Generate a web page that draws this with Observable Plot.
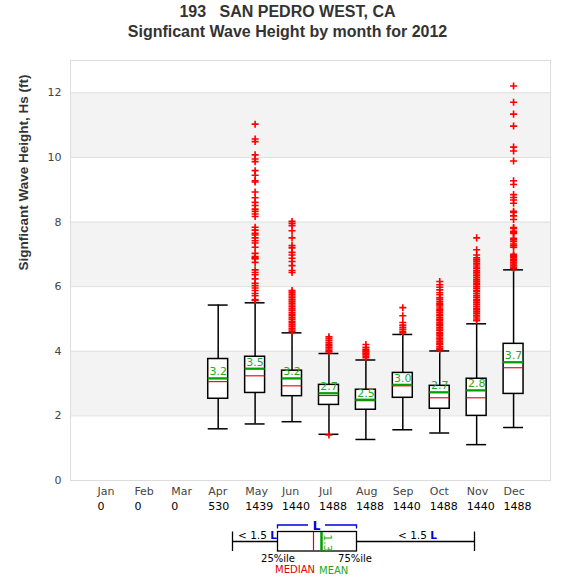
<!DOCTYPE html>
<html><head><meta charset="utf-8">
<script src="https://cdn.jsdelivr.net/npm/d3@7"></script>
<script src="https://cdn.jsdelivr.net/npm/@observablehq/plot@0.6"></script>
<style>
body{margin:0;background:#fff;}
#wrap{position:relative;width:575px;height:580px;overflow:hidden;}
#title{position:absolute;top:2px;left:0;width:575px;text-align:center;font:bold 16px "Liberation Sans",Arial,sans-serif;color:#333;line-height:20px;white-space:pre;}
#plot{position:absolute;top:48px;left:0;}
#legend{position:absolute;top:515px;left:0;}
</style></head><body>
<div id="wrap">
<div id="title">193   SAN PEDRO WEST, CA
Signficant Wave Height by month for 2012</div>
<div id="plot"></div>
<svg id="legend" width="575" height="65" font-family="DejaVu Sans" font-size="10">
  <g stroke="#000" stroke-width="1.3" fill="none">
    <line x1="232.5" y1="16.5" x2="232.5" y2="36"/>
    <line x1="232.5" y1="26.5" x2="277.5" y2="26.5"/>
    <rect x="277.5" y="16.5" width="79" height="19.5" fill="#fff"/>
    <line x1="356.5" y1="26.5" x2="474.5" y2="26.5"/>
    <line x1="474.5" y1="16.5" x2="474.5" y2="36"/>
  </g>
  <line x1="313.5" y1="17" x2="313.5" y2="35.5" stroke="#e00000" stroke-width="1.2"/>
  <line x1="321.5" y1="17" x2="321.5" y2="35.5" stroke="#00a000" stroke-width="2.5"/>
  <text transform="translate(324,28) rotate(90)" text-anchor="middle" fill="#22aa22" font-size="11">1.3</text>
  <path d="M277.5,13.5V10H308M325,10H356.5V13.5" stroke="#0000dd" stroke-width="1.3" fill="none"/>
  <text x="316.5" y="14.5" text-anchor="middle" fill="#0000dd" font-weight="bold" font-size="12">L</text>
  <text x="238" y="23.5" fill="#000" font-size="10.5">&lt; 1.5 <tspan fill="#0000dd" font-weight="bold">L</tspan></text>
  <text x="398" y="23.5" fill="#000" font-size="10.5">&lt; 1.5 <tspan fill="#0000dd" font-weight="bold">L</tspan></text>
  <text x="278" y="47" text-anchor="middle" fill="#000">25%ile</text>
  <text x="355" y="47" text-anchor="middle" fill="#000">75%ile</text>
  <text x="315" y="57.5" text-anchor="end" fill="#e00000">MEDIAN</text>
  <text x="319" y="59" fill="#22aa22">MEAN</text>
</svg>
</div>
<script>
const months = ["Jan","Feb","Mar","Apr","May","Jun","Jul","Aug","Sep","Oct","Nov","Dec"];
const counts = [0,0,0,530,1439,1440,1488,1488,1440,1488,1440,1488];
const whiskerLow  = [null,null,null,1.60,1.75,1.82,1.43,1.27,1.57,1.47,1.11,1.64];
const q1          = [null,null,null,2.53,2.71,2.61,2.34,2.19,2.56,2.22,2.00,2.68];
const medians     = [null,null,null,3.06,3.24,2.93,2.63,2.47,2.93,2.56,2.56,3.49];
const means       = [null,null,null,3.16,3.46,3.16,2.70,2.50,2.96,2.73,2.79,3.66];
const q3          = [null,null,null,3.76,3.83,3.40,2.96,2.81,3.33,2.93,3.15,4.23];
const whiskerHigh = [null,null,null,5.43,5.50,4.57,3.93,3.73,4.52,4.01,4.85,6.52];
const yTicks = [0,2,4,6,8,10,12];
const bandLow = [2,6,10];
const bandHigh = [4,8,12];
const gridLines = [2,4,6,8,10,12];

const outApr = [];
const outMay = [11.03,10.57,10.49,10.08,9.95,9.87,9.59,9.45,9.28,9.24,8.93,8.75,8.61,8.51,8.40,8.33,8.25,8.17,7.84,7.75,7.65,7.60,7.51,7.42,7.35,7.22,7.03,6.93,6.89,6.86,6.75,6.52,6.44,6.37,6.24,6.10,6.03,5.96,5.88,5.79,5.72,5.60,5.57];
const outJun = [8.02,7.96,7.89,7.73,7.51,7.27,7.20,7.06,6.98,6.88,6.78,6.65,6.50,6.44,5.88,5.83,5.77,5.71,5.66,5.60,5.55,5.49,5.43,5.38,5.32,5.27,5.21,5.15,5.10,5.04,4.99,4.93,4.88,4.82,4.77,4.71,4.66,4.61];
const outJul = [4.45,4.40,4.34,4.28,4.22,4.17,4.12,4.07,4.02,3.98,1.41];
const outAug = [4.21,4.12,4.06,4.02,3.98,3.94,3.90,3.85,3.80];
const outSep = [5.35,5.10,4.89,4.81,4.74,4.68,4.62,4.57];
const outOct = [6.16,6.06,5.98,5.90,5.81,5.75,5.66,5.61,5.55,5.49,5.44,5.40,5.34,5.29,5.25,5.19,5.14,5.10,5.04,4.99,4.95,4.89,4.84,4.80,4.74,4.69,4.65,4.59,4.54,4.50,4.44,4.39,4.35,4.29,4.24,4.20,4.14,4.09,4.05];
const outNov = [7.51,7.14,6.98,6.89,6.83,6.78,6.72,6.67,6.61,6.56,6.50,6.45,6.39,6.34,6.28,6.22,6.17,6.11,6.06,6.00,5.95,5.89,5.84,5.78,5.72,5.67,5.61,5.56,5.50,5.45,5.39,5.33,5.28,5.22,5.17,5.11,5.06,5.00,4.95];
const outDec = [12.21,11.71,11.34,10.97,10.32,10.20,9.89,9.28,9.16,8.85,8.76,8.68,8.58,8.33,8.30,8.19,8.08,7.83,7.80,7.71,7.68,7.65,7.50,7.45,7.40,7.32,7.27,7.22,7.00,6.96,6.93,6.89,6.83,6.80,6.75,6.70,6.65,6.60,6.56];
const outliersByMonth = [[],[],[],outApr,outMay,outJun,outJul,outAug,outSep,outOct,outNov,outDec];

const monthRows = months.map((m, k) => ({i: k + 1, m, n: counts[k]}));
const stats = months.map((m, k) => ({i: k + 1, lo: whiskerLow[k], q1: q1[k], med: medians[k], mean: means[k], q3: q3[k], hi: whiskerHigh[k]})).filter(d => d.q1 != null);
const outliers = outliersByMonth.flatMap((arr, k) => arr.map(v => ({i: k + 1, v})));
const bands = bandLow.map((lo, k) => ({lo, hi: bandHigh[k]}));
const hw = 0.27;

const chart = Plot.plot({
  width: 575, height: 467,
  marginTop: 12, marginBottom: 35, marginLeft: 70, marginRight: 25,
  style: {fontFamily: "DejaVu Sans", fontSize: "11px", color: "#444", background: "#fff"},
  x: {domain: [0, 13], axis: null},
  y: {domain: [0, 13], ticks: yTicks, tickSize: 0, tickPadding: 9, label: null},
  marks: [
    Plot.rect(bands, {y1: "lo", y2: "hi", fill: "#f3f3f3"}),
    Plot.ruleY(gridLines, {stroke: "#e0e0e0", strokeWidth: 1}),
    Plot.frame({stroke: "#dcdcdc"}),
    Plot.ruleX(stats, {x: "i", y1: "lo", y2: "q1", stroke: "#000", strokeWidth: 1.5}),
    Plot.ruleX(stats, {x: "i", y1: "q3", y2: "hi", stroke: "#000", strokeWidth: 1.5}),
    Plot.ruleY(stats, {y: "lo", x1: d => d.i - hw, x2: d => d.i + hw, stroke: "#000", strokeWidth: 1.5}),
    Plot.ruleY(stats, {y: "hi", x1: d => d.i - hw, x2: d => d.i + hw, stroke: "#000", strokeWidth: 1.5}),
    Plot.rect(stats, {x1: d => d.i - hw, x2: d => d.i + hw, y1: "q1", y2: "q3", fill: "#fff", stroke: "#000", strokeWidth: 1.5}),
    Plot.ruleY(stats, {y: "med", x1: d => d.i - hw, x2: d => d.i + hw, stroke: "#e00000", strokeWidth: 1.1}),
    Plot.ruleY(stats, {y: "mean", x1: d => d.i - hw, x2: d => d.i + hw, stroke: "#00a000", strokeWidth: 2.3}),
    Plot.text(stats, {x: "i", y: "mean", text: d => d.mean.toFixed(1), lineAnchor: "bottom", dy: -3, fill: "#22aa22", fontSize: 11}),
    Plot.dot(outliers, {x: "i", y: "v", symbol: "plus", r: 2.4, stroke: "#ff0000", strokeWidth: 1.6}),
    Plot.text(monthRows, {x: d => d.i - hw, text: "m", frameAnchor: "bottom", dy: 14, textAnchor: "start", fill: "#444"}),
    Plot.text(monthRows, {x: d => d.i - hw, text: d => String(d.n), frameAnchor: "bottom", dy: 29.5, textAnchor: "start", fill: "#000"}),
    Plot.text(["Signficant Wave Height, Hs (ft)"], {frameAnchor: "left", dx: -47, rotate: -90, fontWeight: "bold", fontSize: 13.5, fill: "#333", fontFamily: "Liberation Sans"})
  ]
});
document.getElementById("plot").appendChild(chart);
</script>
</body></html>
